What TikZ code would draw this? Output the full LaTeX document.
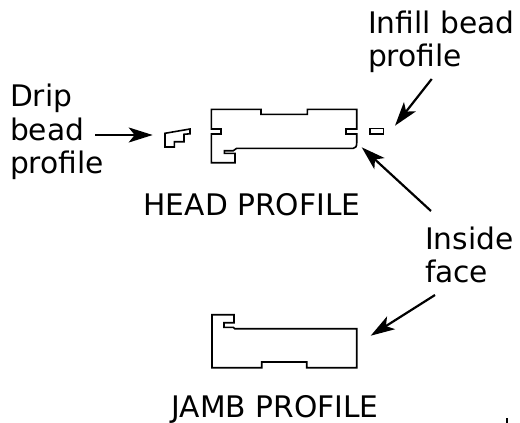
\documentclass[tikz,border=0pt]{standalone}
\usepackage{fontspec}
\setmainfont{DejaVu Sans}
\usetikzlibrary{arrows.meta}
\tikzset{
  prof/.style={draw=black,line width=1.6pt,line join=miter,fill=white},
  lbl/.style={inner sep=0pt,outer sep=0pt,align=left,font=\fontsize{29.7}{33.5}\selectfont,text=black},
  titletext/.style={inner sep=0pt,outer sep=0pt,font=\fontsize{29.7}{33.5}\selectfont,text=black},
  pointer/.style={draw=black,line width=2.2pt,-{Stealth[length=24pt,width=15pt,inset=6pt]}}
}
\begin{document}
\begin{tikzpicture}[x=1pt,y=-1pt]
\useasboundingbox (0,0) rectangle (520,423);
% head profile
\draw[prof] (211.3,109.3) -- (261,109.3) -- (261,114.3) -- (307.3,114.3) -- (307.3,109.3) -- (356.7,109.3)
  -- (356.7,129) -- (346,129) -- (346,134) -- (356.7,134) -- (356.7,143)
  .. controls (356.7,146.5) and (355.5,148.3) .. (353.3,148.3)
  -- (236.7,148.3) -- (233.3,150.7) -- (224.3,150.7) -- (224.3,153.3) -- (235,153.3) -- (235,162.7)
  -- (211.3,162.7) -- (211.3,134) -- (221,134) -- (221,129) -- (211.3,129) -- cycle;
% drip bead
\draw[prof] (165,133.3) -- (190,129) -- (190,133.8) -- (184,134.3) -- (184,141.7) -- (174.3,141.7)
  -- (174.3,147) -- (165,147) -- cycle;
% infill bead
\draw[prof] (370,128.3) rectangle (383.3,133.7);
% jamb profile
\draw[prof] (212,314.7) -- (234,314.7) -- (234,322.7) -- (224,322.7) -- (224,327.3) -- (233.3,327.3)
  -- (234.7,328.7) -- (356.7,328.7) -- (356.7,367.7) -- (306.7,367.7) -- (306.7,362) -- (261.7,362)
  -- (261.7,367.7) -- (212,367.7) -- cycle;
% labels
\node[lbl,anchor=west] (infill) at (368,42) {Infill bead\\profile};
\node[lbl,anchor=west] (drip) at (10,132) {Drip\\bead\\profile};
\node[lbl,anchor=west] (inside) at (425,255) {Inside\\face};
\node[titletext] (head) at (252,205) {HEAD PROFILE};
\node[titletext] (jamb) at (275,409) {JAMB PROFILE};
% pointer ends
\coordinate (dripS) at (95,135);
\coordinate (dripT) at (152.7,135);
\coordinate (infS) at (431.7,79);
\coordinate (infT) at (395,125.7);
\coordinate (inS) at (431,211);
\coordinate (inT) at (361.7,147.3);
\coordinate (jS) at (435,295);
\coordinate (jT) at (370.7,335.7);
\draw[pointer] (dripS) -- (dripT);
\draw[pointer] (infS) -- (infT);
\draw[pointer] (inS) -- (inT);
\draw[pointer] (jS) -- (jT);
\coordinate (markA) at (506.7,418);
\coordinate (markB) at (506.7,423);
\draw[black,line width=1.6pt] (markA) -- (markB);
\end{tikzpicture}
\end{document}
